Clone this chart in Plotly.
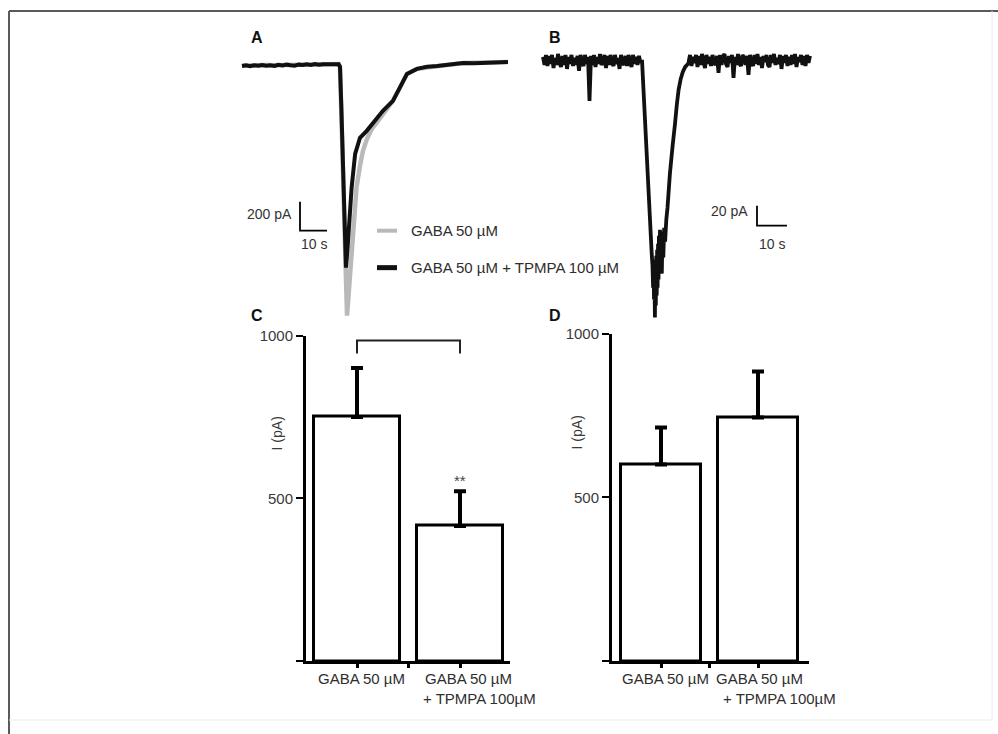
import numpy as np
import plotly.graph_objects as go

W, H = 998, 734
# the drawing area starts a few pixels below the top of the page
TOP_OFFSET = 8
SPAN = H - TOP_OFFSET
FONT = "Liberation Sans, Arial, sans-serif"
INK = "#262626"

# ---------------- Panel A: GABA-evoked current, with / without TPMPA (s, pA)
a_t_gaba = [0, 3, 6, 9, 12, 15, 18, 21, 24, 27, 30, 33, 35.8,
            36.3, 37.0, 37.8, 38.5, 38.9, 39.6, 40.4, 41.3, 42.4, 43.7, 44.8,
            46.3, 48.1, 50.4, 53.0, 55.9, 58.5, 61.1, 64.8, 72.2, 81.9, 90.0, 98.5]
a_i_gaba = [-12, -9, -11, -7, -9, -6, -8, -5, -6, -3, -4, -2, -1,
            -20, -500, -1100, -1600, -1738, -1566, -1359, -1083, -855, -703, -600,
            -517, -448, -393, -331, -255, -165, -69, -34, -14, 7, 10, 14]

a_t_tpmpa = [0, 1.5, 3, 4.5, 6, 7.5, 9, 10.5, 12, 13.5, 15, 16.5, 18, 19.5, 21,
             22.5, 24, 25.5, 27, 28.5, 30, 31.5, 33, 34.5, 35.8,
             36.3, 36.8, 37.4, 38.0, 38.5, 39.0, 39.7, 40.6, 41.9, 43.7, 46.2,
             49.3, 52.2, 55.9, 58.5, 61.1, 64.8, 68.5, 72.2, 76.0, 81.9, 86.0,
             90.0, 94.0, 98.5]
a_i_tpmpa = [-14, -9, -16, -10, -13, -7, -12, -9, -14, -6, -10, -5, -9, -12, -5,
             -8, -3, -7, -1, -6, -2, -4, 0, -3, -2,
             -20, -300, -750, -1150, -1407, -1300, -1083, -855, -621, -510, -462,
             -393, -324, -255, -165, -69, -34, -20, -14, -4, 7, 5,
             10, 9, 14]

# ---------------- Panel B: current in a second cell (s, pA), 0.5 s samples on the baselines
b_pre = [3, -5, 5, -6, 4, -4, 5, -8, 2, -5, 6, -3, -7, 4, -5, 5, -9, 3, -4, 5,
         -6, 2, -5, 4, -11, 5, -3, -6, 5, -4, 3, -41, 4, -5, 5, -7, 3, -4, 6, -5,
         -2, 5, -8, 4, -5, 5, -3, -6, 5, -4, 2, -9, 5, -3, -5, 4, -6, 5, -2, -7,
         5, -4, 3, -5, 4, -3]
b_t_peak = [33.0, 33.6, 34.2, 34.9, 35.6, 36.2, 36.5, 36.7, 36.85, 37.0, 37.15,
            37.3, 37.45, 37.6, 37.75, 37.9, 38.05, 38.2, 38.35, 38.5, 38.65, 38.8,
            39.0, 39.2, 39.4, 39.6, 39.8, 40.1, 40.4, 40.7, 41.1, 41.5, 42.3,
            43.2, 44.0, 44.6, 45.2, 45.9, 46.6, 47.4, 48.3]
b_i_peak = [0, -36, -72, -114, -156, -192, -206, -228, -200, -240, -212, -258,
            -206, -246, -196, -236, -190, -228, -184, -220, -176, -212, -170,
            -206, -172, -214, -180, -198, -168, -182, -160, -148, -114,
            -86, -64, -45, -30, -19, -12, -7, -4]
b_post = [-3, 5, -6, 3, -3, 5, -7, 4, -5, 6, -2, -8, 5, -4, 3, -6, 5, -3, -5, 4,
          -13, 5, -5, 3, 6, -4, -7, 4, -3, 5, -18, 3, -5, 6, -4, -6, 5, 2, -5, 4,
          -15, 5, -3, -6, 5, -4, 6, -5, 3, -8, 4, -2, 5, -5, -7, 5, -3, 6, -5, 2,
          -4, 5, -9, 4, -3, 5, -6, 3, -5, 5, -4, 6, -7, 3, -2, 5, -5, 4, -6, 5,
          -3, 4]
B_PRE_T0, B_POST_T0, B_DT = 0.0, 48.5, 0.5

# ---------------- Panels C and D: peak amplitude (pA), mean + SEM
bar_groups = ["GABA 50 µM", "GABA 50 µM + TPMPA 100µM"]
c_mean = [750, 415]
c_sem = [150, 107]
d_mean = [600, 744]
d_sem = [113, 140]

scale_a = (200, 10)   # pA, s
scale_b = (20, 10)    # pA, s


def px(x):
    return x / W


def py(y):
    return (H - y) / SPAN


def xdom(a, b):
    return [px(a), px(b)]


def ydom(top, bottom):
    return [py(bottom), py(top)]


fig = go.Figure()

# traces A
fig.add_trace(go.Scatter(x=a_t_gaba, y=a_i_gaba, mode="lines",
                         line=dict(color="#b9b9b9", width=4.5),
                         xaxis="x", yaxis="y", showlegend=False, hoverinfo="skip"))
fig.add_trace(go.Scatter(x=a_t_tpmpa, y=a_i_tpmpa, mode="lines",
                         line=dict(color="#111111", width=4),
                         xaxis="x", yaxis="y", showlegend=False, hoverinfo="skip"))

# trace B
b_t = list(B_PRE_T0 + B_DT * np.arange(len(b_pre))) + b_t_peak + \
    list(B_POST_T0 + B_DT * np.arange(len(b_post)))
b_i = b_pre + b_i_peak + b_post
fig.add_trace(go.Scatter(x=b_t, y=b_i, mode="lines",
                         line=dict(color="#111111", width=3.8, simplify=False),
                         xaxis="x2", yaxis="y2", showlegend=False, hoverinfo="skip"))

# bars C / D
bar_style = dict(color="white", line=dict(color="black", width=3))
for mean, sem, xa, ya in [(c_mean, c_sem, "x3", "y3"), (d_mean, d_sem, "x4", "y4")]:
    fig.add_trace(go.Bar(
        x=[0, 1], y=mean, width=0.83, marker=bar_style,
        error_y=dict(type="data", symmetric=False, array=sem, arrayminus=[0, 0],
                     color="black", thickness=4, width=6),
        xaxis=xa, yaxis=ya, showlegend=False, hoverinfo="skip"))

# ---- axes
A_PX_S, A_PX_PA, A_X0, A_Y0 = 2.7, 29 / 200, 242, 63
B_PX_S, B_PX_PA, B_X0, B_Y0 = 3.0, 1.0, 543, 59
hidden = dict(visible=False, fixedrange=True)

layout = dict(
    width=W, height=H, margin=dict(l=0, r=0, t=0, b=0),
    paper_bgcolor="white", plot_bgcolor="rgba(0,0,0,0)",
    font=dict(family=FONT, color=INK, size=15),
    bargap=0,
    xaxis=dict(domain=xdom(240, 512), anchor="y",
               range=[(240 - A_X0) / A_PX_S, (512 - A_X0) / A_PX_S], **hidden),
    yaxis=dict(domain=ydom(45, 322), anchor="x",
               range=[-(322 - A_Y0) / A_PX_PA, -(45 - A_Y0) / A_PX_PA], **hidden),
    xaxis2=dict(domain=xdom(540, 815), anchor="y2",
                range=[(540 - B_X0) / B_PX_S, (815 - B_X0) / B_PX_S], **hidden),
    yaxis2=dict(domain=ydom(40, 325), anchor="x2",
                range=[-(325 - B_Y0) / B_PX_PA, -(40 - B_Y0) / B_PX_PA], **hidden),
)

bar_x = dict(showline=True, linewidth=3, linecolor="black", zeroline=False,
             showgrid=False, ticks="outside", ticklen=4, tickwidth=2.5,
             tickcolor="black", tickvals=[0, 0.5, 1], showticklabels=False,
             fixedrange=True)
bar_y = dict(showline=True, linewidth=3, linecolor="black", zeroline=False,
             showgrid=False, ticks="outside", ticklen=7, tickwidth=2,
             tickcolor="black", range=[0, 1000], tickvals=[0, 500, 1000],
             ticktext=["", "500", "1000"], tickfont=dict(size=15, color="#3a3a3a"),
             fixedrange=True)
layout["xaxis3"] = dict(domain=xdom(306, 510), anchor="y3",
                        range=[-(357 - 306) / 103, (510 - 357) / 103], **bar_x)
layout["yaxis3"] = dict(domain=ydom(335, 661), anchor="x3", **bar_y)
layout["xaxis4"] = dict(domain=xdom(612, 809), anchor="y4",
                        range=[-(661 - 612) / 97, (809 - 661) / 97], **bar_x)
layout["yaxis4"] = dict(domain=ydom(333, 661), anchor="x4", **bar_y)
fig.update_layout(**layout)

shapes = []
ann = []

# outer frame
shapes.append(dict(type="line", xref="paper", yref="paper", x0=px(9), x1=1,
                   y0=py(10), y1=py(10), line=dict(color="#5a5a5a", width=2)))
shapes.append(dict(type="line", xref="paper", yref="paper", x0=px(9), x1=px(9),
                   y0=py(10), y1=0, line=dict(color="#5a5a5a", width=2)))
shapes.append(dict(type="line", xref="paper", yref="paper", x0=px(992), x1=px(992),
                   y0=py(10), y1=py(720), line=dict(color="#ececec", width=1)))
shapes.append(dict(type="line", xref="paper", yref="paper", x0=px(9), x1=px(992),
                   y0=py(720), y1=py(720), line=dict(color="#ececec", width=1)))


# scale bars
def scale_bar(xa, ya, t0, i0, pa, sec):
    return dict(type="path", xref=xa, yref=ya,
                path=f"M {t0} {i0} L {t0} {i0 - pa} L {t0 + sec} {i0 - pa}",
                line=dict(color="black", width=1.8))


a_sb_t, a_sb_i = (300 - A_X0) / A_PX_S, -(201 - A_Y0) / A_PX_PA
b_sb_t, b_sb_i = (757 - B_X0) / B_PX_S, -(205 - B_Y0) / B_PX_PA
shapes.append(scale_bar("x", "y", a_sb_t, a_sb_i, scale_a[0], scale_a[1]))
shapes.append(scale_bar("x2", "y2", b_sb_t, b_sb_i, scale_b[0], scale_b[1]))

small = dict(size=14, color="#333333")
ann.append(dict(xref="x", yref="y", x=a_sb_t, y=a_sb_i - scale_a[0] / 2,
                text=f"{scale_a[0]} pA", showarrow=False, xanchor="right",
                yanchor="middle", xshift=-6, yshift=2, font=small))
ann.append(dict(xref="x", yref="y", x=a_sb_t + scale_a[1] / 2, y=a_sb_i - scale_a[0],
                text=f"{scale_a[1]} s", showarrow=False, xanchor="center",
                yanchor="top", yshift=-3, font=small))
ann.append(dict(xref="x2", yref="y2", x=b_sb_t, y=b_sb_i - scale_b[0] / 2,
                text=f"{scale_b[0]} pA", showarrow=False, xanchor="right",
                yanchor="middle", xshift=-7, yshift=5, font=small))
ann.append(dict(xref="x2", yref="y2", x=b_sb_t + scale_b[1] / 2, y=b_sb_i - scale_b[0],
                text=f"{scale_b[1]} s", showarrow=False, xanchor="center",
                yanchor="top", yshift=-8, font=small))

# legend of panel A
for ypix, col, wid, label in [(230, "#b9b9b9", 4, bar_groups[0]),
                              (267, "#111111", 5, "GABA 50 µM + TPMPA 100 µM")]:
    shapes.append(dict(type="line", xref="paper", yref="paper", x0=px(377), x1=px(397),
                       y0=py(ypix), y1=py(ypix), line=dict(color=col, width=wid)))
    ann.append(dict(xref="paper", yref="paper", x=px(409), y=py(ypix), text=label,
                    showarrow=False, xanchor="left", yanchor="middle",
                    font=dict(size=15, color="#2e2e2e")))

# panel letters
for letter, xp, yp in [("A", 257, 37), ("B", 555, 37), ("C", 257, 315), ("D", 555, 315)]:
    ann.append(dict(xref="paper", yref="paper", x=px(xp), y=py(yp), text=f"<b>{letter}</b>",
                    showarrow=False, xanchor="center", yanchor="middle",
                    font=dict(size=16, color="#111111")))

# y titles
for xp, yp in [(277, 433), (577, 432)]:
    ann.append(dict(xref="paper", yref="paper", x=px(xp), y=py(yp), text="I (pA)",
                    textangle=-90, showarrow=False, xanchor="center", yanchor="middle",
                    font=dict(size=14, color="#3a3a3a")))

# category labels under the bars
line1, line2 = "GABA 50 µM", "+ TPMPA 100µM"
lab_font = dict(size=15, color="#2e2e2e")
for xa, shifts in [("x3", (4, 8, 19)), ("x4", (4, 1, 21))]:
    ann.append(dict(xref=xa, yref="paper", x=0, y=py(678), text=line1, showarrow=False,
                    xanchor="center", yanchor="middle", xshift=shifts[0], font=lab_font))
    ann.append(dict(xref=xa, yref="paper", x=1, y=py(678), text=line1, showarrow=False,
                    xanchor="center", yanchor="middle", xshift=shifts[1], font=lab_font))
    ann.append(dict(xref=xa, yref="paper", x=1, y=py(698), text=line2, showarrow=False,
                    xanchor="center", yanchor="middle", xshift=shifts[2], font=lab_font))

# significance bracket and stars in C
shapes.append(dict(type="path", xref="x3", yref="y3",
                   path="M 0 945 L 0 985 L 1 985 L 1 945",
                   line=dict(color="#222222", width=2)))
ann.append(dict(xref="x3", yref="y3", x=1, y=c_mean[1] + c_sem[1], text="**",
                showarrow=False, xanchor="center", yanchor="middle", yshift=11,
                font=dict(size=15, color="#444444")))

fig.update_layout(shapes=shapes, annotations=ann)
fig.write_html("out.html")
